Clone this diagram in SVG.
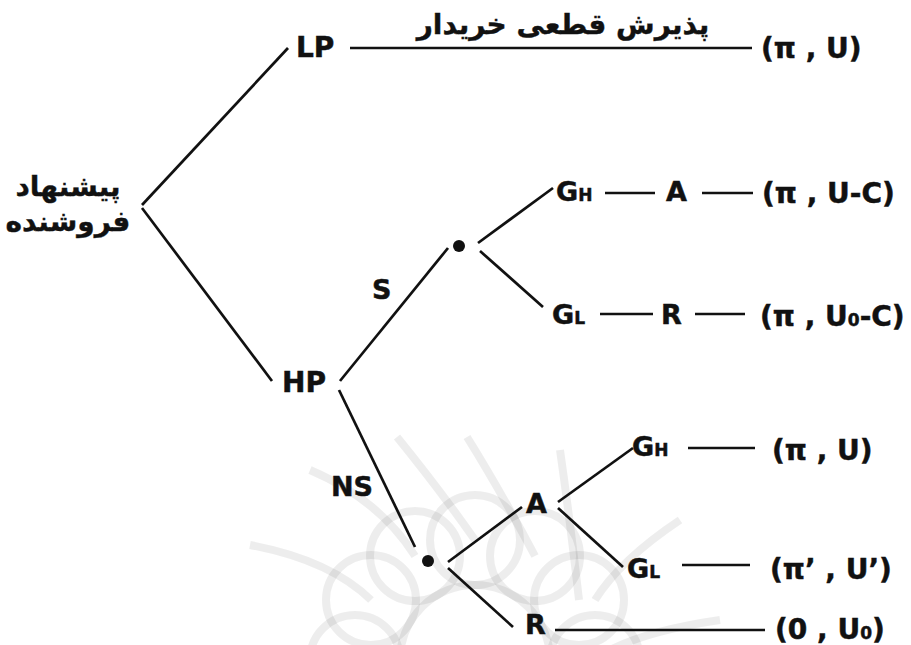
<svg xmlns="http://www.w3.org/2000/svg" width="911" height="645" viewBox="0 0 911 645">
<style>
.t{font-family:"DejaVu Sans","Liberation Sans",sans-serif;font-weight:bold;font-size:28px;fill:#111;stroke:#111;stroke-width:0.5}
.m{font-size:27px}
.s{font-size:17px}
.fa{font-family:"DejaVu Sans","Noto Sans",sans-serif;font-weight:bold;font-size:28px;fill:#111;stroke:#111;stroke-width:0.4}
.e{stroke:#111;stroke-width:2.7;fill:none;stroke-linecap:butt}
.wm{fill:none;stroke:#000;stroke-opacity:0.07;stroke-width:8}
</style>
<rect width="911" height="645" fill="#fff"/>
<g id="watermark">
<circle class="wm" cx="475" cy="660" r="75"/>
<circle class="wm" cx="355" cy="660" r="45"/>
<circle class="wm" cx="371" cy="600" r="45"/>
<circle class="wm" cx="415" cy="556" r="45"/>
<circle class="wm" cx="475" cy="540" r="45"/>
<circle class="wm" cx="535" cy="556" r="45"/>
<circle class="wm" cx="579" cy="600" r="45"/>
<circle class="wm" cx="595" cy="660" r="45"/>
<path class="wm" d="M250 545 Q330 560 371 600 M310 470 Q380 500 415 556 M397 437 Q440 490 475 540 M467 437 Q500 490 535 556 M560 450 Q570 520 579 600 M680 520 Q620 560 595 600 M720 620 Q650 630 610 650"/>
</g>
<g id="connectors">
<line class="e" x1="142" y1="205" x2="288" y2="48"/>
<line class="e" x1="142" y1="208" x2="272" y2="381"/>
<line class="e" x1="350" y1="48" x2="752" y2="48"/>
<line class="e" x1="340" y1="381" x2="448" y2="248"/>
<line class="e" x1="339" y1="390" x2="415" y2="547"/>
<line class="e" x1="478" y1="243" x2="553" y2="188"/>
<line class="e" x1="480" y1="251" x2="543" y2="307"/>
<line class="e" x1="605" y1="193" x2="655" y2="193"/>
<line class="e" x1="702" y1="193" x2="753" y2="193"/>
<line class="e" x1="600" y1="314" x2="653" y2="314"/>
<line class="e" x1="695" y1="314" x2="745" y2="314"/>
<line class="e" x1="448" y1="562" x2="522" y2="507"/>
<line class="e" x1="448" y1="568" x2="513" y2="627"/>
<line class="e" x1="558" y1="502" x2="633" y2="448"/>
<line class="e" x1="558" y1="508" x2="623" y2="567"/>
<line class="e" x1="688" y1="448" x2="755" y2="448"/>
<line class="e" x1="682" y1="565" x2="750" y2="565"/>
<line class="e" x1="555" y1="630" x2="765" y2="630"/>
</g>
<g id="root">
<text class="fa" x="68" y="196" text-anchor="middle" direction="rtl">پیشنهاد</text>
<text class="fa" x="68" y="231" text-anchor="middle" direction="rtl">فروشنده</text>
</g>
<g id="label-accept"><text class="fa" x="563" y="34" text-anchor="middle" direction="rtl">پذیرش قطعی خریدار</text></g>
<g id="LP"><text class="t" x="296" y="57">LP</text></g>
<g id="payoff1"><text class="t" x="761" y="58">(π , U)</text></g>
<g id="HP"><text class="t" x="282" y="392">HP</text></g>
<g id="S"><text class="t m" x="372" y="299">S</text></g>
<g id="NS"><text class="t m" x="331" y="496">NS</text></g>
<g id="dot1"><circle cx="459" cy="246" r="6" fill="#111"/></g>
<g id="dot2"><circle cx="428" cy="561" r="6" fill="#111"/></g>
<g id="GH1"><text class="t m" x="556" y="201">G<tspan class="s">H</tspan></text></g>
<g id="A1"><text class="t m" x="666" y="201">A</text></g>
<g id="payoff2"><text class="t" x="762" y="203">(π , U-C)</text></g>
<g id="GL1"><text class="t m" x="552" y="324">G<tspan class="s">L</tspan></text></g>
<g id="R1"><text class="t m" x="661" y="324">R</text></g>
<g id="payoff3"><text class="t" x="760" y="326">(π , U<tspan class="s">0</tspan>-C)</text></g>
<g id="A2"><text class="t m" x="526" y="513">A</text></g>
<g id="GH2"><text class="t m" x="632" y="456">G<tspan class="s">H</tspan></text></g>
<g id="payoff4"><text class="t" x="772" y="460">(π , U)</text></g>
<g id="GL2"><text class="t m" x="627" y="578">G<tspan class="s">L</tspan></text></g>
<g id="payoff5"><text class="t" x="770" y="579">(π’ , U’)</text></g>
<g id="R2"><text class="t m" x="525" y="634">R</text></g>
<g id="payoff6"><text class="t" x="775" y="639">(0 , U<tspan class="s">0</tspan>)</text></g>
</svg>
